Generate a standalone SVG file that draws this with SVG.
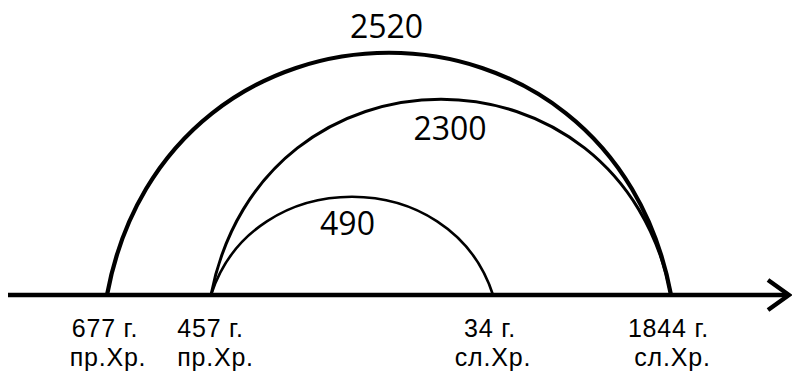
<svg xmlns="http://www.w3.org/2000/svg" width="792" height="374" viewBox="0 0 792 374">
<style>
.arc{fill:none;stroke:#000;stroke-linecap:round}
.ax{fill:none;stroke:#000;stroke-width:4.5}
text{font-family:"Open Sans","Liberation Sans",sans-serif;fill:#000;text-anchor:middle}
.big{font-size:32px}
.lbl{font-family:"Liberation Sans",Arial,sans-serif;font-size:25px;letter-spacing:0.8px}
</style>
<rect width="792" height="374" fill="#fff"/>
<g id="connectors">
<path id="axis" class="ax" d="M8,295 H788"/>
<polyline class="ax" points="768,280 789,295 768,310" stroke-linejoin="miter"/>
<path id="arc2520" class="arc" stroke-width="4.2" d="M107,295 C167,-28 611,-28 671,295"/>
<path id="arc2300" class="arc" stroke-width="3" d="M211,295 C262,34 620,34 671,295"/>
<path id="arc490" class="arc" stroke-width="2.6" d="M211,295 C253,164 451,164 493,295"/>
</g>
<g id="label-2520"><text class="big" x="386.5" y="38">2520</text></g>
<g id="label-2300"><text class="big" x="450" y="140">2300</text></g>
<g id="label-490"><text class="big" x="347.5" y="235">490</text></g>
<g id="node-677"><text class="lbl" x="105" y="337">677 г.</text><text class="lbl" x="108" y="366">пр.Хр.</text></g>
<g id="node-457"><text class="lbl" x="210.5" y="337">457 г.</text><text class="lbl" x="215.5" y="366">пр.Хр.</text></g>
<g id="node-34"><text class="lbl" x="490" y="337">34 г.</text><text class="lbl" x="493" y="366">сл.Хр.</text></g>
<g id="node-1844"><text class="lbl" x="668.5" y="337">1844 г.</text><text class="lbl" x="672.5" y="366">сл.Хр.</text></g>
</svg>
